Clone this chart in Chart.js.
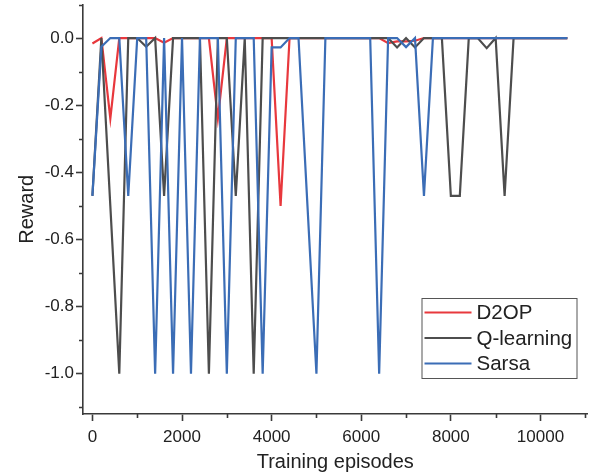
<!DOCTYPE html>
<html>
<head>
<meta charset="utf-8">
<script src="https://cdn.jsdelivr.net/npm/chart.js@4"></script>
<style>
  html, body { margin: 0; padding: 0; background: #fff; }
  #wrap { width: 589px; height: 474px; }
</style>
</head>
<body>
<div id="wrap"><canvas id="chart" width="589" height="474"></canvas></div>
<script>
// Reward per training episode, sampled every 200 episodes
const episodes = [0, 200, 400, 600, 800, 1000, 1200, 1400, 1600, 1800,
  2000, 2200, 2400, 2600, 2800, 3000, 3200, 3400, 3600, 3800,
  4000, 4200, 4400, 4600, 4800, 5000, 5200, 5400, 5600, 5800,
  6000, 6200, 6400, 6600, 6800, 7000, 7200, 7400, 7600, 7800,
  8000, 8200, 8400, 8600, 8800, 9000, 9200, 9400, 9600, 9800,
  10000, 10200, 10400, 10600];

const d2op = [-0.016, 0, -0.24, 0, 0, 0, 0, 0, -0.014, 0,
  0, 0, 0, 0, -0.24, 0, 0, 0, 0, 0,
  0, -0.5, 0, 0, 0, 0, 0, 0, 0, 0,
  0, 0, 0, -0.015, -0.01, -0.01, -0.008, 0, 0, 0,
  0, 0, 0, 0, 0, 0, 0, 0, 0, 0,
  0, 0, 0, 0];

const qLearning = [-0.47, 0, -0.5, -1, 0, 0, -0.026, 0, -0.47, 0,
  0, 0, 0, -1, 0, 0, -0.47, 0, -1, 0,
  0, 0, 0, 0, 0, 0, 0, 0, 0, 0,
  0, 0, 0, 0, -0.028, 0, -0.028, 0, 0, 0,
  -0.47, -0.47, 0, 0, -0.03, 0, -0.47, 0, 0, 0,
  0, 0, 0, 0];

const sarsa = [-0.47, -0.026, 0, 0, -0.47, 0, 0, -1, 0, -1,
  0, -1, 0, 0, 0, -1, 0, 0, 0, -1,
  -0.028, -0.028, 0, 0, -0.5, -1, 0, 0, 0, 0,
  0, 0, -1, 0, 0, -0.027, 0, -0.47, 0, 0,
  0, 0, 0, 0, 0, 0, 0, 0, 0, 0,
  0, 0, 0, 0];

const seriesNames = ['D2OP', 'Q-learning', 'Sarsa'];
const xTicks = [0, 2000, 4000, 6000, 8000, 10000];
const yTicks = [-1.0, -0.8, -0.6, -0.4, -0.2, 0.0];
const xMinorTicks = [1000, 3000, 5000, 7000, 9000, 11000];
const yMinorTicks = [-1.1, -0.9, -0.7, -0.5, -0.3, -0.1, 0.1];

const FONT = 'Arial, "Liberation Sans", sans-serif';
const AXIS = '#3a3a3a';
const TEXT = '#222';
const colors = ['#e8383d', '#4d4d4d', '#3b6db6'];

function toPoints(values) {
  return episodes.map((x, i) => ({ x: x, y: values[i] }));
}

// short ticks between the labelled ones
const minorTicks = {
  id: 'minorTicks',
  afterDraw(chart) {
    const ctx = chart.ctx;
    const xs = chart.scales.x, ys = chart.scales.y;
    ctx.save();
    ctx.strokeStyle = AXIS;
    ctx.lineWidth = 1.6;
    ctx.beginPath();
    xMinorTicks.forEach(v => {
      const px = Math.round(xs.getPixelForValue(v)) + 0.5;
      ctx.moveTo(px, xs.top);
      ctx.lineTo(px, xs.top + 4);
    });
    yMinorTicks.forEach(v => {
      const py = Math.round(ys.getPixelForValue(v)) + 0.5;
      ctx.moveTo(ys.right, py);
      ctx.lineTo(ys.right - 4, py);
    });
    ctx.stroke();
    ctx.restore();
  }
};

// boxed legend in the lower right of the plot
const boxLegend = {
  id: 'boxLegend',
  afterDraw(chart) {
    const ctx = chart.ctx;
    const area = chart.chartArea;
    const w = 155, h = 80;
    const x0 = area.right - 11 - w, y0 = area.bottom - 36 - h;
    ctx.save();
    ctx.fillStyle = '#fff';
    ctx.fillRect(x0, y0, w, h);
    ctx.strokeStyle = '#555';
    ctx.lineWidth = 1;
    ctx.strokeRect(x0 + 0.5, y0 + 0.5, w, h);
    ctx.font = '20.5px ' + FONT;
    ctx.textBaseline = 'middle';
    ctx.fillStyle = TEXT;
    chart.data.datasets.forEach((ds, i) => {
      const y = y0 + 14.5 + i * 25.5;
      ctx.strokeStyle = ds.borderColor;
      ctx.lineWidth = 2.2;
      ctx.beginPath();
      ctx.moveTo(x0 + 3, y);
      ctx.lineTo(x0 + 50, y);
      ctx.stroke();
      ctx.fillText(ds.label, x0 + 55, y + 1);
    });
    ctx.restore();
  }
};

new Chart(document.getElementById('chart'), {
  type: 'line',
  data: {
    datasets: [
      { label: seriesNames[0], data: toPoints(d2op), borderColor: colors[0], order: 2 },
      { label: seriesNames[1], data: toPoints(qLearning), borderColor: colors[1], order: 1 },
      { label: seriesNames[2], data: toPoints(sarsa), borderColor: colors[2], order: 0 }
    ]
  },
  options: {
    responsive: false,
    animation: false,
    layout: { padding: { top: 4.5, right: 1.5, left: 0, bottom: 0 } },
    elements: {
      line: { borderWidth: 2.2, tension: 0, fill: false },
      point: { radius: 0 }
    },
    plugins: { legend: { display: false }, tooltip: { enabled: false } },
    scales: {
      x: {
        type: 'linear',
        min: -210,
        max: 11050,
        border: { color: AXIS, width: 1.6 },
        grid: { drawOnChartArea: false, tickLength: 7, tickColor: AXIS, tickWidth: 1.6 },
        ticks: {
          autoSkip: false, maxRotation: 0,
          padding: 6, color: TEXT, font: { family: FONT, size: 17 },
          callback: v => String(v)
        },
        afterBuildTicks: s => { s.ticks = xTicks.map(v => ({ value: v })); },
        title: {
          display: true, text: 'Training episodes', color: TEXT,
          font: { family: FONT, size: 20 }, padding: { top: 0, bottom: 0 }
        },
        afterFit: s => { s.height = 60; s.paddingLeft = 0; s.paddingRight = 0; }
      },
      y: {
        min: -1.12,
        max: 0.1,
        border: { color: AXIS, width: 1.6 },
        grid: { drawOnChartArea: false, tickLength: 7, tickColor: AXIS, tickWidth: 1.6 },
        ticks: {
          padding: 2, color: TEXT,
          font: { family: FONT, size: 17 },
          callback: v => v.toFixed(1)
        },
        afterBuildTicks: s => { s.ticks = yTicks.map(v => ({ value: v })); },
        title: {
          display: true, text: 'Reward', color: TEXT,
          font: { family: FONT, size: 20 }, padding: { top: 15, bottom: 0 }
        },
        afterFit: s => { s.width = 83; s.paddingTop = 0; s.paddingBottom = 0; }
      }
    }
  },
  plugins: [minorTicks, boxLegend]
});
</script>
</body>
</html>
